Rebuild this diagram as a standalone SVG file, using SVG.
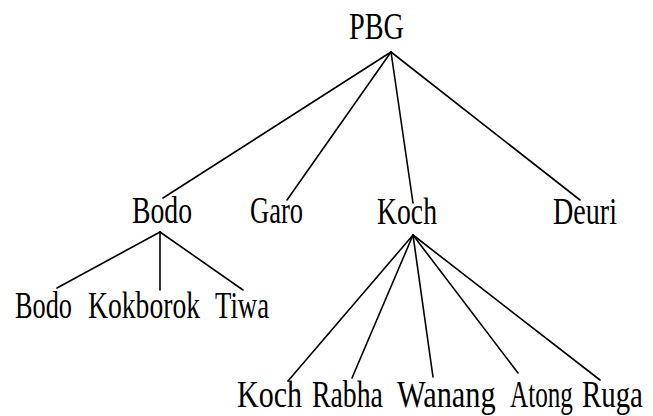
<svg xmlns="http://www.w3.org/2000/svg" width="653" height="416" viewBox="0 0 653 416">
  <style>
    .lbl { font-family: "Liberation Serif", "Times New Roman", serif; font-size: 38px; fill: #000; }
    .edge { stroke: #000; stroke-width: 1.6; fill: none; stroke-linecap: round; }
  </style>
  <rect width="653" height="416" fill="#fff"/>
  <g id="connectors">
    <line class="edge" x1="391" y1="52" x2="163" y2="198"/>
    <line class="edge" x1="391" y1="52" x2="287" y2="200"/>
    <line class="edge" x1="391" y1="52" x2="413" y2="203"/>
    <line class="edge" x1="391" y1="52" x2="580" y2="200"/>
    <line class="edge" x1="160" y1="232" x2="57" y2="288"/>
    <line class="edge" x1="160" y1="232" x2="160" y2="290"/>
    <line class="edge" x1="160" y1="232" x2="243" y2="290"/>
    <line class="edge" x1="413" y1="235" x2="288" y2="381"/>
    <line class="edge" x1="413" y1="235" x2="352" y2="378"/>
    <line class="edge" x1="413" y1="235" x2="433" y2="377"/>
    <line class="edge" x1="413" y1="235" x2="518" y2="373"/>
    <line class="edge" x1="413" y1="235" x2="600" y2="380"/>
  </g>
  <!-- labels are condensed horizontally with a scale transform -->
  <g id="pbg"><text class="lbl" transform="translate(349 39) scale(0.744 1)">PBG</text></g>
  <g id="bodo"><text class="lbl" transform="translate(132 223) scale(0.729 1)">Bodo</text></g>
  <g id="garo"><text class="lbl" transform="translate(250 223) scale(0.698 1)">Garo</text></g>
  <g id="koch"><text class="lbl" transform="translate(377 224) scale(0.729 1)">Koch</text></g>
  <g id="deuri"><text class="lbl" transform="translate(553 224) scale(0.74 1)">Deuri</text></g>
  <g id="bodo-leaf"><text class="lbl" transform="translate(15 318) scale(0.692 1)">Bodo</text></g>
  <g id="kokborok"><text class="lbl" transform="translate(88 318) scale(0.727 1)">Kokborok</text></g>
  <g id="tiwa"><text class="lbl" transform="translate(215 318) scale(0.704 1)">Tiwa</text></g>
  <g id="koch-leaf"><text class="lbl" transform="translate(237 407) scale(0.79 1)">Koch</text></g>
  <g id="rabha"><text class="lbl" transform="translate(312 407) scale(0.731 1)">Rabha</text></g>
  <g id="wanang"><text class="lbl" transform="translate(397 407) scale(0.798 1)">Wanang</text></g>
  <g id="atong"><text class="lbl" transform="translate(510 407) scale(0.663 1)">Atong</text></g>
  <g id="ruga"><text class="lbl" transform="translate(582 407) scale(0.76 1)">Ruga</text></g>
</svg>
